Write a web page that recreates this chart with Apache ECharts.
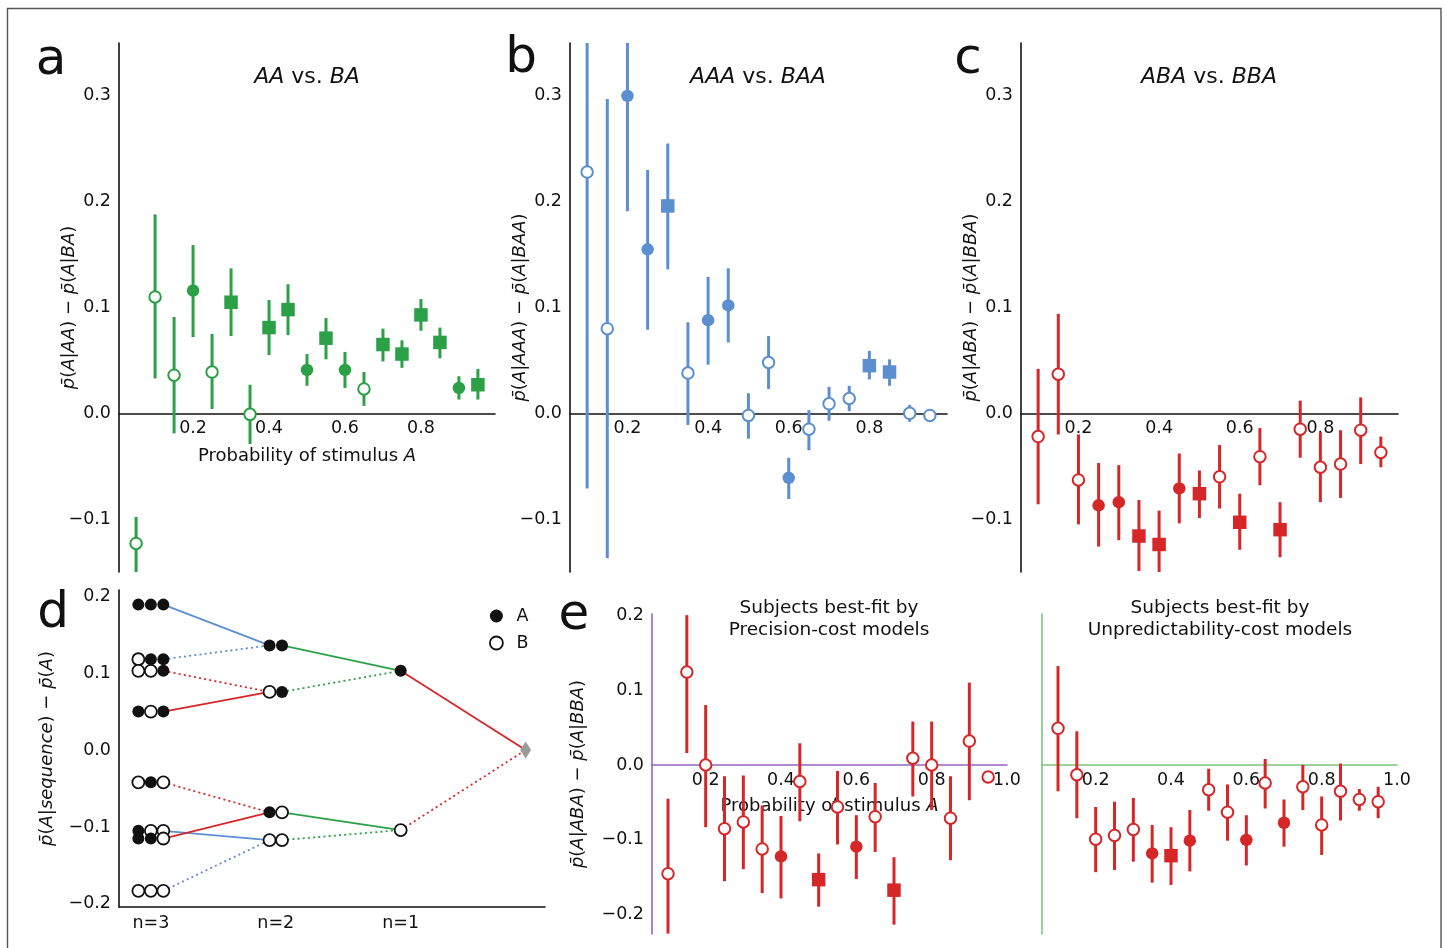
<!DOCTYPE html>
<html>
<head>
<meta charset="utf-8">
<script src="https://cdn.jsdelivr.net/npm/echarts@6/dist/echarts.min.js"></script>
<style>
  html, body { margin: 0; padding: 0; background: #ffffff; }
  #chart { width: 1447px; height: 948px; }
</style>
</head>
<body>
<div id="chart"></div>
<script>
// Probability of stimulus A at which each condition was run
const probA19 = [0.05, 0.10, 0.15, 0.20, 0.25, 0.30, 0.35, 0.40, 0.45, 0.50, 0.55, 0.60, 0.65, 0.70, 0.75, 0.80, 0.85, 0.90, 0.95];
const probA18 = [0.10, 0.15, 0.20, 0.25, 0.30, 0.35, 0.40, 0.45, 0.50, 0.55, 0.60, 0.65, 0.70, 0.75, 0.80, 0.85, 0.90, 0.95];

// Marker codes: 'o' = not significant (open circle), 'f' = significant (filled circle), 's' = highly significant (square)

// a: AA vs. BA
const aMean = [-0.123, 0.110, 0.036, 0.116, 0.039, 0.105, -0.001, 0.081, 0.098, 0.041, 0.071, 0.041, 0.023, 0.065, 0.056, 0.093, 0.067, 0.024, 0.027];
const aLow  = [-0.160, 0.033, -0.019, 0.072, 0.004, 0.073, -0.029, 0.055, 0.074, 0.026, 0.051, 0.024, 0.007, 0.049, 0.043, 0.078, 0.052, 0.013, 0.013];
const aHigh = [-0.098, 0.188, 0.091, 0.159, 0.075, 0.137, 0.027, 0.107, 0.122, 0.056, 0.090, 0.058, 0.039, 0.080, 0.069, 0.108, 0.081, 0.035, 0.042];
const aSig  = ['o', 'o', 'o', 'f', 'o', 's', 'o', 's', 's', 'f', 's', 'f', 'o', 's', 's', 's', 's', 'f', 's'];

// b: AAA vs. BAA
const bMean = [0.228, 0.080, 0.300, 0.155, 0.196, 0.038, 0.088, 0.102, -0.002, 0.048, -0.061, -0.015, 0.009, 0.014, 0.045, 0.039, 0.000, -0.002];
const bLow  = [-0.071, -0.137, 0.191, 0.079, 0.136, -0.011, 0.046, 0.067, -0.024, 0.023, -0.081, -0.035, -0.007, 0.002, 0.032, 0.026, -0.008, -0.006];
const bHigh = [0.380, 0.297, 0.410, 0.230, 0.255, 0.086, 0.129, 0.137, 0.019, 0.073, -0.042, 0.003, 0.025, 0.026, 0.059, 0.051, 0.008, 0.002];
const bSig  = ['o', 'o', 'f', 'f', 's', 'o', 'f', 'f', 'o', 'o', 'f', 'o', 'o', 'o', 's', 's', 'o', 'o'];

// c: ABA vs. BBA
const cMean = [-0.022, 0.037, -0.063, -0.087, -0.084, -0.116, -0.124, -0.071, -0.076, -0.060, -0.103, -0.041, -0.110, -0.015, -0.051, -0.048, -0.016, -0.037];
const cLow  = [-0.086, -0.020, -0.105, -0.126, -0.120, -0.149, -0.160, -0.104, -0.099, -0.090, -0.129, -0.068, -0.136, -0.042, -0.084, -0.080, -0.048, -0.051];
const cHigh = [0.042, 0.094, -0.020, -0.047, -0.049, -0.082, -0.092, -0.038, -0.054, -0.030, -0.076, -0.014, -0.084, 0.012, -0.018, -0.016, 0.015, -0.022];
const cSig  = ['o', 'o', 'o', 'f', 'f', 's', 's', 'f', 's', 'o', 's', 'o', 's', 'o', 'o', 'o', 'o', 'o'];

// d: sequential effects by sequence length
const seqN3 = ['AAA', 'BAA', 'BBA', 'ABA', 'BAB', 'ABB', 'AAB', 'BBB'];
const valN3 = [0.189, 0.118, 0.103, 0.050, -0.042, -0.105, -0.115, -0.183];
const seqN2 = ['AA', 'BA', 'AB', 'BB'];
const valN2 = [0.136, 0.0755, -0.081, -0.117];
const seqN1 = ['A', 'B'];
const valN1 = [0.103, -0.104];
const valN0 = 0.0;
const dTickLabels = ['n=3', 'n=2', 'n=1'];

// e: ABA vs. BBA, split by best-fitting model family
const ePrecMean = [-0.145, 0.124, 0.000, -0.085, -0.076, -0.112, -0.122, -0.022, -0.153, -0.056, -0.109, -0.069, -0.167, 0.009, 0.000, -0.071, 0.032, -0.016];
const ePrecLow  = [-0.225, 0.016, -0.083, -0.155, -0.139, -0.171, -0.178, -0.075, -0.189, -0.106, -0.152, -0.116, -0.213, -0.042, -0.060, -0.127, -0.047, -0.019];
const ePrecHigh = [-0.045, 0.200, 0.080, -0.015, -0.014, -0.054, -0.068, 0.029, -0.118, -0.008, -0.067, -0.024, -0.123, 0.058, 0.058, -0.015, 0.110, -0.013];
const ePrecSig  = ['o', 'o', 'o', 'o', 'o', 'o', 'f', 'o', 's', 'o', 'f', 'o', 's', 'o', 'o', 'o', 'o', 'o'];

const eUnpMean = [0.049, -0.013, -0.099, -0.094, -0.086, -0.118, -0.121, -0.101, -0.033, -0.063, -0.100, -0.024, -0.077, -0.029, -0.080, -0.035, -0.046, -0.049];
const eUnpLow  = [-0.035, -0.071, -0.143, -0.140, -0.129, -0.157, -0.160, -0.142, -0.061, -0.101, -0.134, -0.058, -0.109, -0.060, -0.120, -0.074, -0.061, -0.071];
const eUnpHigh = [0.132, 0.045, -0.056, -0.049, -0.044, -0.080, -0.083, -0.060, -0.005, -0.026, -0.067, 0.008, -0.046, 0.000, -0.042, 0.002, -0.032, -0.029];
const eUnpSig  = ['o', 'o', 'o', 'o', 'o', 'f', 's', 'f', 'o', 'o', 'f', 'o', 'f', 'o', 'o', 'o', 'o', 'o'];

const abTicks = [-0.1, 0.0, 0.1, 0.2, 0.3];
const dTicks = [-0.2, -0.1, 0.0, 0.1, 0.2];
const eTicks = [-0.2, -0.1, 0.0, 0.1, 0.2];
const probTicks = [0.2, 0.4, 0.6, 0.8];
const probTicksE = [0.2, 0.4, 0.6, 0.8, 1.0];

// ---------------------------------------------------------------------------
const FONT = 'DejaVu Sans';
const INK = '#111111';
const GREEN = '#2ca046';
const BLUE = '#5b8fd0';
const RED = '#d62728';
const PURPLE = '#9c64c0';
const LIGHTGREEN = '#7cc77c';
const GREY = '#9a9a9a';

const fmtNum = v => {
  const r = Math.round(v * 10) / 10;
  return (r < 0 ? '\u2212' : '') + Math.abs(r).toFixed(1);
};
const italic = { fontStyle: 'italic', fontFamily: FONT, fontSize: 18, color: INK };

const grids = [
  { left: 119, top: 43, width: 376, height: 529 },   // a
  { left: 570, top: 43, width: 377, height: 529 },   // b
  { left: 1021, top: 43, width: 377, height: 529 },  // c
  { left: 119, top: 590, width: 426, height: 317 },  // d
  { left: 652, top: 614, width: 355, height: 320 },  // e, precision
  { left: 1042, top: 614, width: 355, height: 320 }  // e, unpredictability
].map(g => Object.assign({ containLabel: false, outerBoundsMode: 'none' }, g));

// y ranges per grid; x axes of the probability panels sit on the zero line
const yRanges = [[-0.15, 0.35], [-0.15, 0.35], [-0.15, 0.35], [-0.204, 0.208], [-0.2255, 0.2015], [-0.2255, 0.2015]];
const zeroOffset = gi => -grids[gi].height * (0 - yRanges[gi][0]) / (yRanges[gi][1] - yRanges[gi][0]);

function axisBase(color) {
  return {
    axisLine: { show: true, onZero: false, lineStyle: { color: color, width: 1.6 } },
    axisTick: { show: false },
    splitLine: { show: false },
    axisLabel: { color: INK, fontFamily: FONT, fontSize: 17.5, formatter: fmtNum }
  };
}

function xAxisFor(gi, min, max, ticks, color, extra) {
  const ax = axisBase(color);
  return Object.assign({
    type: 'value', gridIndex: gi, min: min, max: max, position: 'bottom',
    offset: zeroOffset(gi),
    axisLine: ax.axisLine, axisTick: ax.axisTick, splitLine: ax.splitLine,
    axisLabel: Object.assign(ax.axisLabel, { customValues: ticks, margin: 6 })
  }, extra || {});
}

function yAxisFor(gi, ticks, color, extra) {
  const ax = axisBase(color);
  return Object.assign({
    type: 'value', gridIndex: gi, min: yRanges[gi][0], max: yRanges[gi][1],
    axisLine: ax.axisLine, axisTick: ax.axisTick, splitLine: ax.splitLine,
    axisLabel: Object.assign(ax.axisLabel, { customValues: ticks, margin: 8, padding: [4, 0, 0, 0] })
  }, extra || {});
}

function yName(text, gap) {
  return {
    name: text, nameLocation: 'middle', nameRotate: 90, nameGap: gap, nameMoveOverlap: false,
    nameTextStyle: { color: INK, fontFamily: FONT, fontSize: 18, rich: { i: italic } }
  };
}

function xNameProb(gap) {
  return {
    name: 'Probability of stimulus {i|A}', nameLocation: 'middle', nameGap: gap, nameMoveOverlap: false,
    nameTextStyle: { color: INK, fontFamily: FONT, fontSize: 18, rich: { i: italic } }
  };
}

const xAxes = [
  xAxisFor(0, 0.005, 0.995, probTicks, INK, xNameProb(34)),
  xAxisFor(1, 0.0575, 0.9925, probTicks, INK),
  xAxisFor(2, 0.0575, 0.9925, probTicks, INK),
  xAxisFor(3, -0.255, 3.155, [0, 1, 2], INK),
  xAxisFor(4, 0.0575, 1.0, probTicksE, PURPLE, xNameProb(32)),
  xAxisFor(5, 0.0575, 1.0, probTicksE, LIGHTGREEN)
];
// d uses a plain bottom axis with sequence-length labels
xAxes[3].offset = 0;
xAxes[3].axisLabel.formatter = v => dTickLabels[Math.round(v)];
xAxes[3].axisLabel.margin = 7;

const yAxes = [
  yAxisFor(0, abTicks, INK, yName('{i|p\u0304}({i|A}|{i|AA}) \u2212 {i|p\u0304}({i|A}|{i|BA})', 41)),
  yAxisFor(1, abTicks, INK, yName('{i|p\u0304}({i|A}|{i|AAA}) \u2212 {i|p\u0304}({i|A}|{i|BAA})', 41)),
  yAxisFor(2, abTicks, INK, yName('{i|p\u0304}({i|A}|{i|ABA}) \u2212 {i|p\u0304}({i|A}|{i|BBA})', 41)),
  yAxisFor(3, dTicks, INK, yName('{i|p\u0304}({i|A}|{i|sequence}) \u2212 {i|p\u0304}({i|A})', 63)),
  yAxisFor(4, eTicks, PURPLE, yName('{i|p\u0304}({i|A}|{i|ABA}) \u2212 {i|p\u0304}({i|A}|{i|BBA})', 65)),
  yAxisFor(5, eTicks, LIGHTGREEN)
];
yAxes[5].axisLabel.show = false;

// ---------------------------------------------------------------------------
// Error bars + markers for one panel
function errorPanel(gi, xs, mean, low, high, sig, color) {
  const bars = {
    type: 'custom', xAxisIndex: gi, yAxisIndex: gi, silent: true, z: 2,
    data: xs.map((x, k) => [x, low[k], high[k]]),
    renderItem: function (params, api) {
      const cs = params.coordSys;
      const x = api.coord([api.value(0), 0])[0];
      const clamp = y => Math.min(Math.max(y, cs.y), cs.y + cs.height);
      const y1 = clamp(api.coord([api.value(0), api.value(1)])[1]);
      const y2 = clamp(api.coord([api.value(0), api.value(2)])[1]);
      return { type: 'line', shape: { x1: x, y1: y1, x2: x, y2: y2 },
               style: { stroke: color, lineWidth: 3, lineCap: 'butt' } };
    }
  };
  const pick = code => xs.map((x, k) => [x, mean[k], sig[k]]).filter(p => p[2] === code).map(p => [p[0], p[1]]);
  const common = { type: 'scatter', xAxisIndex: gi, yAxisIndex: gi, silent: true, z: 3, animation: false };
  return [
    bars,
    Object.assign({}, common, { data: pick('o'), symbol: 'circle', symbolSize: 11.5,
      itemStyle: { color: '#ffffff', borderColor: color, borderWidth: 2, opacity: 1 } }),
    Object.assign({}, common, { data: pick('f'), symbol: 'circle', symbolSize: 12.5,
      itemStyle: { color: color, opacity: 1 } }),
    Object.assign({}, common, { data: pick('s'), symbol: 'rect', symbolSize: 13.5,
      itemStyle: { color: color, opacity: 1 } })
  ];
}

// ---------------------------------------------------------------------------
// Panel d: circles for every sequence and the links to its shorter suffix
const dLevels = [
  { seqs: seqN3, vals: valN3, pos: 0 },
  { seqs: seqN2, vals: valN2, pos: 1 },
  { seqs: seqN1, vals: valN1, pos: 2 }
];
const SPACING = 0.1;
const dotsA = [], dotsB = [];
dLevels.forEach(level => {
  level.seqs.forEach((s, k) => {
    for (let j = 0; j < s.length; j++) {
      const x = level.pos + (j - (s.length - 1) / 2) * SPACING;
      (s[j] === 'A' ? dotsA : dotsB).push([x, level.vals[k]]);
    }
  });
});

function suffixValue(s) {
  const t = s.slice(1);
  if (t.length === 0) return { x: 3, y: valN0 };
  const lv = dLevels[3 - t.length];
  const k = lv.seqs.indexOf(t);
  return { x: lv.pos - (t.length - 1) / 2 * SPACING, y: lv.vals[k] };
}

const dLinks = [];
dLevels.forEach(level => {
  level.seqs.forEach((s, k) => {
    const startX = level.pos + (s.length - 1) / 2 * SPACING;
    const end = suffixValue(s);
    let color;
    if (s.length === 3) color = (s[1] === s[2]) ? BLUE : RED;
    else if (s.length === 2) color = GREEN;
    else color = RED;
    dLinks.push({
      type: 'line', xAxisIndex: 3, yAxisIndex: 3, silent: true, z: 1, animation: false,
      showSymbol: false, symbol: 'none',
      data: [[startX, level.vals[k]], [end.x, end.y]],
      lineStyle: { color: color, width: 1.8, type: s[0] === 'A' ? 'solid' : [2, 3.2] }
    });
  });
});

const dSeries = dLinks.concat([
  { type: 'scatter', name: 'B', xAxisIndex: 3, yAxisIndex: 3, silent: true, z: 3, animation: false,
    data: dotsB, symbol: 'circle', symbolSize: 12,
    itemStyle: { color: '#ffffff', borderColor: INK, borderWidth: 1.8, opacity: 1 } },
  { type: 'scatter', name: 'A', xAxisIndex: 3, yAxisIndex: 3, silent: true, z: 4, animation: false,
    data: dotsA, symbol: 'circle', symbolSize: 12,
    itemStyle: { color: INK, opacity: 1 } },
  { type: 'scatter', xAxisIndex: 3, yAxisIndex: 3, silent: true, z: 3, animation: false,
    data: [[3, valN0]], symbol: 'diamond', symbolSize: [11, 17],
    itemStyle: { color: GREY, opacity: 1 } }
]);

// ---------------------------------------------------------------------------
const series = []
  .concat(errorPanel(0, probA19, aMean, aLow, aHigh, aSig, GREEN))
  .concat(errorPanel(1, probA18, bMean, bLow, bHigh, bSig, BLUE))
  .concat(errorPanel(2, probA18, cMean, cLow, cHigh, cSig, RED))
  .concat(dSeries)
  .concat(errorPanel(4, probA18, ePrecMean, ePrecLow, ePrecHigh, ePrecSig, RED))
  .concat(errorPanel(5, probA18, eUnpMean, eUnpLow, eUnpHigh, eUnpSig, RED));

function txt(x, y, text, size, extra) {
  return {
    type: 'text', x: x, y: y, silent: true, z: 10,
    style: Object.assign({
      text: text, fill: INK, fontFamily: FONT, fontSize: size,
      align: 'center', verticalAlign: 'middle',
      rich: { i: { fontStyle: 'italic', fontFamily: FONT, fontSize: size, fill: INK } }
    }, extra || {})
  };
}

const graphics = [
  { type: 'rect', silent: true, z: 0,
    shape: { x: 7.5, y: 8.5, width: 1433.5, height: 970 },
    style: { fill: 'none', stroke: '#555555', lineWidth: 1.4 } },
  txt(51, 61, 'a', 50),
  txt(521, 59, 'b', 50),
  txt(968, 60, 'c', 50),
  txt(53, 614, 'd', 50),
  txt(574, 616, 'e', 50),
  txt(307, 77, '{i|AA} vs. {i|BA}', 22),
  txt(758, 77, '{i|AAA} vs. {i|BAA}', 22),
  txt(1209, 77, '{i|ABA} vs. {i|BBA}', 22),
  txt(829, 619, 'Subjects best-fit by\nPrecision-cost models', 18.5, { lineHeight: 22 }),
  txt(1220, 619, 'Subjects best-fit by\nUnpredictability-cost models', 18.5, { lineHeight: 22 })
];

const chart = echarts.init(document.getElementById('chart'), null, { renderer: 'canvas' });
chart.setOption({
  backgroundColor: '#ffffff',
  animation: false,
  textStyle: { fontFamily: FONT },
  grid: grids,
  xAxis: xAxes,
  yAxis: yAxes,
  legend: {
    orient: 'vertical', left: 484, top: 602,
    itemWidth: 22, itemHeight: 13, itemGap: 9,
    selectedMode: false,
    icon: 'circle',
    textStyle: { color: INK, fontFamily: FONT, fontSize: 17.5, lineHeight: 13, padding: [0, 0, 0, 4] },
    data: [
      { name: 'A', itemStyle: { color: INK, borderWidth: 0 } },
      { name: 'B', itemStyle: { color: '#ffffff', borderColor: INK, borderWidth: 1.8 } }
    ]
  },
  graphic: graphics,
  series: series
});
</script>
</body>
</html>
